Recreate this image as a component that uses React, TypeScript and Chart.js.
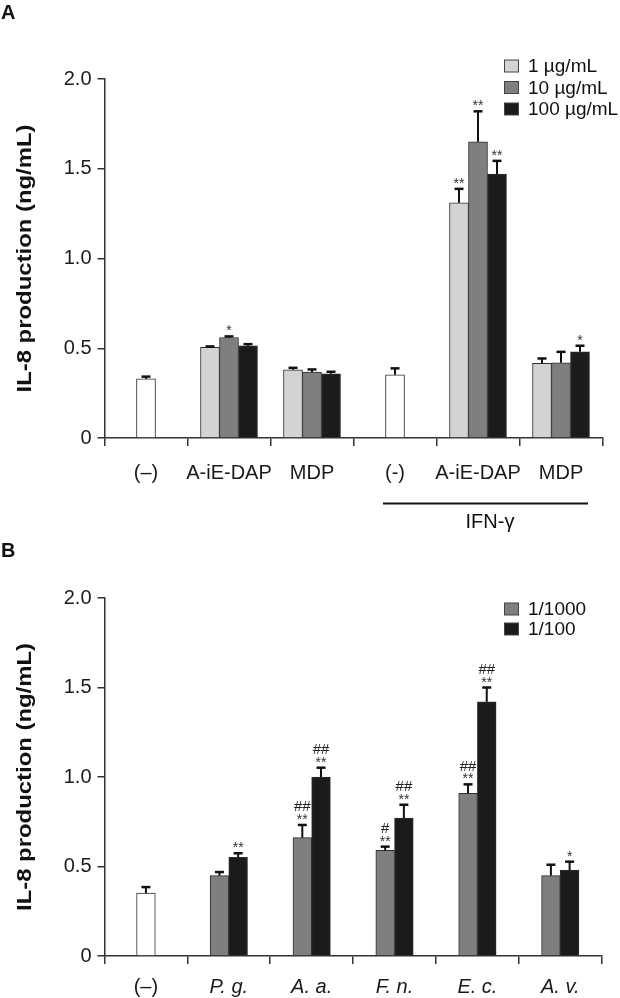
import React, { useEffect, useRef } from 'react';
import { Chart, registerables } from 'chart.js';

Chart.register(...registerables);

const FONT = "'Liberation Sans', Arial, Helvetica, sans-serif";

// ---------- Panel A data ----------
const catsA = ['(–)', 'A-iE-DAP', 'MDP', '(-)', 'A-iE-DAP', 'MDP'];
const ctrlA = [0.33, null, null, 0.352, null, null];
const ctrlAErr = [0.012, null, null, 0.036, null, null];
const lowA = [null, 0.505, 0.38, null, 1.31, 0.416];
const lowAErr = [null, 0.005, 0.011, null, 0.078, 0.027];
const midA = [null, 0.56, 0.367, null, 1.65, 0.419];
const midAErr = [null, 0.006, 0.015, null, 0.17, 0.061];
const highA = [null, 0.514, 0.358, null, 1.47, 0.48];
const highAErr = [null, 0.009, 0.011, null, 0.074, 0.034];
const starsCtrlA = ['', '', '', '', '', ''];
const starsLowA = ['', '', '', '', '**', ''];
const starsMidA = ['', '*', '', '', '**', ''];
const starsHighA = ['', '', '', '', '**', '*'];
const legendA = ['1 µg/mL', '10 µg/mL', '100 µg/mL'];

// ---------- Panel B data ----------
const catsB = ['(–)', 'P. g.', 'A. a.', 'F. n.', 'E. c.', 'A. v.'];
const ctrlB = [0.352, null, null, null, null, null];
const ctrlBErr = [0.033, null, null, null, null, null];
const d1000 = [null, 0.449, 0.661, 0.59, 0.909, 0.449];
const d1000Err = [null, 0.02, 0.071, 0.021, 0.05, 0.061];
const d100 = [null, 0.551, 1.0, 0.771, 1.42, 0.48];
const d100Err = [null, 0.023, 0.052, 0.074, 0.08, 0.047];
const starsCtrlB = ['', '', '', '', '', ''];
const stars1000 = ['', '', '**', '**', '**', ''];
const hash1000 = ['', '', '##', '#', '##', ''];
const stars100 = ['', '**', '**', '**', '**', '*'];
const hash100 = ['', '', '##', '##', '##', ''];
const noHash = ['', '', '', '', '', ''];
const legendB = ['1/1000', '1/100'];

const yTickValues = [0, 0.5, 1.0, 1.5, 2.0];
const yTitle = 'IL-8 production (ng/mL)';

const WHITE = '#ffffff';
const LIGHT = '#d3d3d3';
const MID = '#7f7f7f';
const DARK = '#1b1b1b';
const EDGE = '#2e2e2e';

type DecorCfg = {
  errors: (number | null)[][];
  stars: string[][];
  hashes: string[][];
  legendLabels: string[];
  legendColors: string[];
  legendTop: number;
  legendPitch: number;
  panel: string;
  panelBaseline: number;
  extra?: (ctx: CanvasRenderingContext2D) => void;
};

function makeDecor(cfg: DecorCfg) {
  return {
    id: 'decor' + cfg.panel,
    afterDatasetsDraw(chart: any) {
      const ctx: CanvasRenderingContext2D = chart.ctx;
      const ys = chart.scales.y;
      ctx.save();
      cfg.errors.forEach((errs, di) => {
        const meta = chart.getDatasetMeta(di);
        const vals = chart.data.datasets[di].data as (number | null)[];
        errs.forEach((e, i) => {
          const v = vals[i];
          if (v == null) return;
          const bar = meta.data[i];
          const x = bar.x;
          const top = bar.y;
          let capY = top;
          if (e != null && e > 0) {
            capY = ys.getPixelForValue(v + e);
            ctx.strokeStyle = '#111';
            ctx.lineWidth = 2;
            ctx.beginPath();
            ctx.moveTo(x, top);
            ctx.lineTo(x, capY);
            ctx.stroke();
            ctx.lineWidth = 2.5;
            ctx.beginPath();
            ctx.moveTo(x - 4.5, capY);
            ctx.lineTo(x + 4.5, capY);
            ctx.stroke();
          }
          const s = cfg.stars[di][i];
          ctx.fillStyle = '#333';
          ctx.textAlign = 'center';
          ctx.textBaseline = 'alphabetic';
          if (s) {
            ctx.font = `14px ${FONT}`;
            ctx.fillText(s, x, capY - 1);
          }
          const h = cfg.hashes[di][i];
          if (h) {
            ctx.fillStyle = '#222';
            ctx.font = `15px ${FONT}`;
            ctx.fillText(h, x, capY - 13.5);
          }
        });
      });
      ctx.restore();
    },
    afterDraw(chart: any) {
      const ctx: CanvasRenderingContext2D = chart.ctx;
      const area = chart.chartArea;
      ctx.save();
      // y title
      ctx.translate(25.5, (area.top + area.bottom) / 2);
      ctx.rotate(-Math.PI / 2);
      ctx.font = `bold 21px ${FONT}`;
      const w = ctx.measureText(yTitle).width;
      ctx.scale(268 / w, 1);
      ctx.fillStyle = '#111';
      ctx.textAlign = 'center';
      ctx.textBaseline = 'middle';
      ctx.fillText(yTitle, 0, 0);
      ctx.restore();

      // legend
      ctx.save();
      cfg.legendLabels.forEach((lab, i) => {
        const cy = cfg.legendTop + i * cfg.legendPitch;
        ctx.fillStyle = cfg.legendColors[i];
        ctx.fillRect(504.5, cy - 6, 14, 12);
        ctx.strokeStyle = '#444';
        ctx.lineWidth = 1;
        ctx.strokeRect(504.5, cy - 6, 14, 12);
        ctx.fillStyle = '#111';
        ctx.font = `19px ${FONT}`;
        ctx.textAlign = 'left';
        ctx.textBaseline = 'middle';
        ctx.fillText(lab, 528, cy + 1);
      });
      // panel letter
      ctx.font = `bold 20px ${FONT}`;
      ctx.fillStyle = '#111';
      ctx.textAlign = 'left';
      ctx.textBaseline = 'alphabetic';
      ctx.fillText(cfg.panel, 1, cfg.panelBaseline);
      if (cfg.extra) cfg.extra(ctx);
      ctx.restore();
    },
  };
}

function baseOptions(padTop: number, xHeight: number, tickPad: number, right: number, italic: boolean) {
  return {
    animation: false as const,
    responsive: false,
    maintainAspectRatio: false,
    events: [],
    layout: { padding: { top: padTop, right: right, left: 0, bottom: 0 } },
    plugins: { legend: { display: false }, tooltip: { enabled: false }, title: { display: false } },
    scales: {
      x: {
        type: 'category' as const,
        offset: true,
        grid: {
          offset: true,
          drawOnChartArea: false,
          drawTicks: true,
          tickLength: 8,
          color: '#333',
          lineWidth: 1.5,
        },
        border: { display: true, color: '#333', width: 1.5 },
        ticks: {
          color: '#1a1a1a',
          autoSkip: false,
          maxRotation: 0,
          padding: tickPad,
          font: (c: any) => ({
            family: FONT,
            size: 20,
            style: italic && c.index > 0 ? 'italic' : 'normal',
          }),
        },
        afterFit: (s: any) => {
          s.height = xHeight;
        },
      },
      y: {
        min: 0,
        max: 2,
        afterBuildTicks: (s: any) => {
          s.ticks = yTickValues.map((v) => ({ value: v }));
        },
        ticks: {
          color: '#1a1a1a',
          padding: 6,
          font: { family: FONT, size: 20 },
          callback: (v: any) => (Number(v) === 0 ? '0' : Number(v).toFixed(1)),
        },
        grid: { drawOnChartArea: false, drawTicks: true, tickLength: 7, color: '#333', lineWidth: 1.5 },
        border: { display: true, color: '#333', width: 1.5 },
        afterFit: (s: any) => {
          s.width = 104.5;
        },
      },
    },
  };
}

function PanelA() {
  const ref = useRef<HTMLCanvasElement>(null);
  useEffect(() => {
    if (!ref.current) return;
    const ds = (data: any[], color: string) => ({
      data,
      backgroundColor: color,
      borderColor: EDGE,
      borderWidth: 1,
      barThickness: 19,
      skipNull: true,
    });
    const chart = new Chart(ref.current, {
      type: 'bar',
      data: {
        labels: catsA,
        datasets: [ds(ctrlA, WHITE), ds(lowA, LIGHT), ds(midA, MID), ds(highA, DARK)],
      },
      options: baseOptions(79, 97, 15, 17.5, false) as any,
      plugins: [
        makeDecor({
          errors: [ctrlAErr, lowAErr, midAErr, highAErr],
          stars: [starsCtrlA, starsLowA, starsMidA, starsHighA],
          hashes: [noHash, noHash, noHash, noHash],
          legendLabels: legendA,
          legendColors: [LIGHT, MID, DARK],
          legendTop: 66,
          legendPitch: 21.5,
          panel: 'A',
          panelBaseline: 19,
          extra: (ctx) => {
            ctx.strokeStyle = '#111';
            ctx.lineWidth = 2;
            ctx.beginPath();
            ctx.moveTo(383, 503.5);
            ctx.lineTo(588, 503.5);
            ctx.stroke();
            ctx.fillStyle = '#111';
            ctx.font = `20px ${FONT}`;
            ctx.textAlign = 'center';
            ctx.textBaseline = 'middle';
            ctx.fillText('IFN-γ', 490, 522);
          },
        }) as any,
      ],
    });
    return () => chart.destroy();
  }, []);
  return <canvas ref={ref} width={620} height={535} style={{ display: 'block', width: 620, height: 535 }} />;
}

function PanelB() {
  const ref = useRef<HTMLCanvasElement>(null);
  useEffect(() => {
    if (!ref.current) return;
    const ds = (data: any[], color: string) => ({
      data,
      backgroundColor: color,
      borderColor: EDGE,
      borderWidth: 1,
      barThickness: 18.7,
      skipNull: true,
    });
    const chart = new Chart(ref.current, {
      type: 'bar',
      data: {
        labels: catsB,
        datasets: [ds(ctrlB, WHITE), ds(d1000, MID), ds(d100, DARK)],
      },
      options: baseOptions(63, 42, 11, 18.3, true) as any,
      plugins: [
        makeDecor({
          errors: [ctrlBErr, d1000Err, d100Err],
          stars: [starsCtrlB, stars1000, stars100],
          hashes: [noHash, hash1000, hash100],
          legendLabels: legendB,
          legendColors: [MID, DARK],
          legendTop: 74,
          legendPitch: 20,
          panel: 'B',
          panelBaseline: 22,
        }) as any,
      ],
    });
    return () => chart.destroy();
  }, []);
  return <canvas ref={ref} width={620} height={463} style={{ display: 'block', width: 620, height: 463 }} />;
}

export default function App() {
  return (
    <div style={{ position: 'absolute', left: 0, top: 0, width: 620, height: 998, background: '#fff', overflow: 'hidden' }}>
      <div style={{ position: 'absolute', left: 0, top: 0 }}>
        <PanelA />
      </div>
      <div style={{ position: 'absolute', left: 0, top: 535 }}>
        <PanelB />
      </div>
    </div>
  );
}
